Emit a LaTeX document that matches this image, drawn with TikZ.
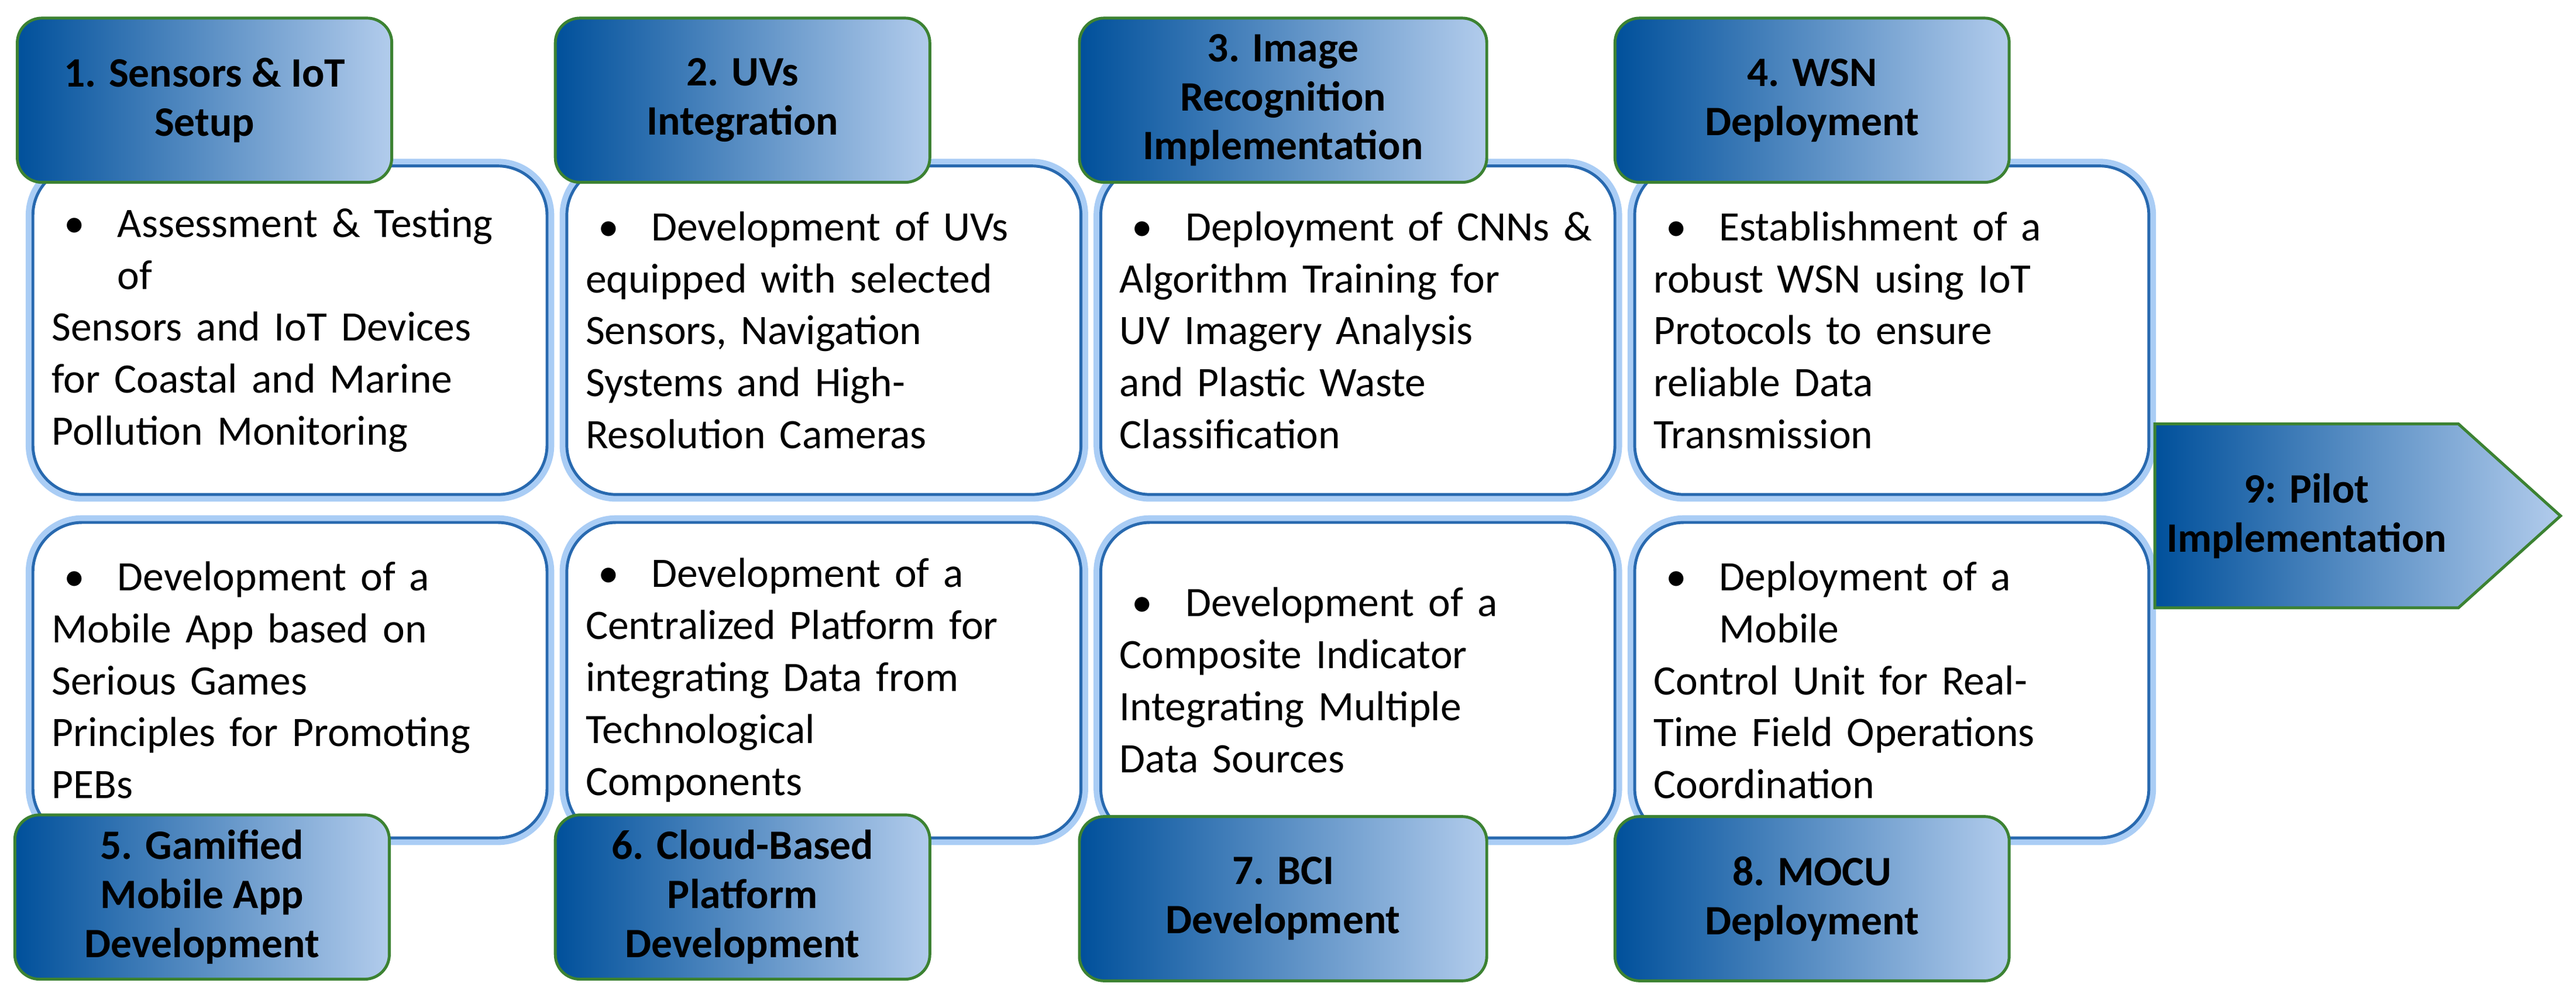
\documentclass[tikz,border=0pt]{standalone}
\usepackage{fontspec}
\setmainfont{Carlito}
\usetikzlibrary{shapes.symbols}
\definecolor{hdark}{RGB}{0,80,155}
\definecolor{hlight}{RGB}{178,204,236}
\definecolor{hgreen}{RGB}{60,130,50}
\definecolor{bblue}{RGB}{40,105,175}
\definecolor{bglow}{RGB}{170,205,245}
\newcommand{\bul}[1]{\hyphenpenalty=10000\hangindent=0.8cm\hangafter=1\makebox[0.8cm][l]{\hspace{0.15cm}\textbullet}#1}
\begin{document}
\begin{tikzpicture}[x=0.02cm,y=-0.02cm]
	\tikzstyle{step_head}
	  =[draw=hgreen, line width=1pt, rounded corners=0.3cm, left color=hdark, right color=hlight,
	    shading angle=90, minimum width=4.56cm, minimum height=2cm, align=center,
	    font=\fontsize{14.5}{17}\selectfont\bfseries, inner sep=2pt]
	\tikzstyle{step_body}
	  =[draw=bblue, line width=1pt, fill=white, rounded corners=0.6cm,
	    preaction={draw=bglow, line width=5pt}, minimum width=6.26cm, minimum height=4cm,
	    text width=5.8cm, align=left, font=\fontsize{14.5}{18}\selectfont]
	\useasboundingbox (0,0) rectangle (1568,611);

	% top row
	\node[step_body] (body1) at (176.5,201) {\bul{Assessment \& Testing of\\Sensors and IoT Devices\\for Coastal and Marine\\Pollution Monitoring}};
	\node[step_body] (body2) at (501.5,201) {\bul{Development of UVs\\equipped with selected\\Sensors, Navigation\\Systems and High-\\Resolution Cameras}};
	\node[step_body] (body3) at (826.5,201) {\bul{Deployment of CNNs \&\\Algorithm Training for\\UV Imagery Analysis\\and Plastic Waste\\Classification}};
	\node[step_body] (body4) at (1151.5,201) {\bul{Establishment of a\\robust WSN using IoT\\Protocols to ensure\\reliable Data\\Transmission}};

	% bottom row
	\node[step_body,minimum height=3.84cm] (body5) at (176.5,414) {\bul{Development of a\\Mobile App based on\\Serious Games\\Principles for Promoting\\PEBs}};
	\node[step_body,minimum height=3.84cm] (body6) at (501.5,414) {\bul{Development of a\\Centralized Platform for\\integrating Data from\\Technological\\Components}};
	\node[step_body,minimum height=3.84cm] (body7) at (826.5,414) {\bul{Development of a\\Composite Indicator\\Integrating Multiple\\Data Sources}};
	\node[step_body,minimum height=3.84cm] (body8) at (1151.5,414) {\bul{Deployment of a Mobile\\Control Unit for Real-\\Time Field Operations\\Coordination}};

	\node[step_head] (head1) at (124.5,61) {1. Sensors \& IoT\\Setup};
	\node[step_head] (head2) at (452,61) {2. UVs\\Integration};
	\node[step_head,minimum width=4.96cm] (head3) at (781,61) {3. Image\\Recognition\\Implementation};
	\node[step_head,minimum width=4.8cm] (head4) at (1103,61) {4. WSN\\Deployment};

	\node[step_head] (head5) at (123,546) {5. Gamified\\Mobile App\\Development};
	\node[step_head] (head6) at (452,546) {6. Cloud-Based\\Platform\\Development};
	\node[step_head,minimum width=4.96cm] (head7) at (781,547) {7. BCI\\Development};
	\node[step_head,minimum width=4.8cm] (head8) at (1103,547) {8. MOCU\\Deployment};

	% pilot
	\node[step_head, shape=signal, signal to=east, signal pointer angle=84, rounded corners=0pt,
	  minimum width=4.94cm, minimum height=2.24cm] (pilot) at (1404,314) {9: Pilot\\Implementation};
\end{tikzpicture}
\end{document}
